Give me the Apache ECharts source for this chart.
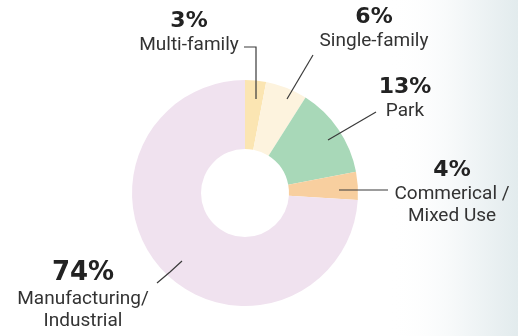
<!DOCTYPE html>
<html>
<head>
<meta charset="utf-8">
<script src="https://cdn.jsdelivr.net/npm/echarts@6/dist/echarts.min.js"></script>
<style>
  html, body { margin: 0; padding: 0; background: #fff; }
  #chart { width: 518px; height: 336px; }
</style>
</head>
<body>
<div id="chart"></div>
<script>
// land use shares, clockwise from 12 o'clock
const categories = ['Multi-family', 'Single-family', 'Park', 'Commerical /\nMixed Use', 'Manufacturing/\nIndustrial'];
const shares = [3, 6, 13, 4, 74];
const sliceColors = ['#fbe5b2', '#fdf3de', '#a8d8b8', '#f8cf9f', '#f0e2ef'];

// where each label block sits and how its leader line runs (px)
const labelPlace = [
  { x: 189, y: 8,   pct: 'p',   line: [[256, 99], [256, 47], [244, 47]] },
  { x: 374, y: 4,   pct: 'p',   line: [[287, 99], [300, 77], [313, 55]] },
  { x: 405, y: 74,  pct: 'p',   line: [[328, 140], [352, 126], [376, 112]] },
  { x: 452, y: 157, pct: 'p',   line: [[339, 190], [364, 190], [388, 190]] },
  { x: 83,  y: 258, pct: 'big', line: [[182, 261], [170, 272], [157, 283]] }
];

const chart = echarts.init(document.getElementById('chart'), null, { renderer: 'canvas' });

const pieBase = {
  type: 'pie',
  center: [245, 193],
  radius: [44, 113],
  startAngle: 90,
  clockwise: true,
  avoidLabelOverlap: false,
  emphasis: { disabled: true }
};

const option = {
  animation: false,
  backgroundColor: '#fff',
  graphic: [{
    type: 'rect',
    z: -10,
    shape: { x: 390, y: 0, width: 128, height: 336 },
    style: {
      fill: new echarts.graphic.LinearGradient(0, 0, 1, 0, [
        { offset: 0, color: 'rgba(255,255,255,0)' },
        { offset: 0.6, color: 'rgba(242,246,247,1)' },
        { offset: 1, color: 'rgba(226,235,237,1)' }
      ])
    },
    silent: true
  }],
  series: [
    // coloured ring
    Object.assign({}, pieBase, {
      z: 2,
      itemStyle: { borderWidth: 0 },
      label: { show: false },
      labelLine: { show: false },
      data: categories.map((name, i) => ({
        name: name,
        value: shares[i],
        itemStyle: { color: sliceColors[i] }
      }))
    }),
    // transparent copy on top, carries labels and leader lines
    Object.assign({}, pieBase, {
      z: 5,
      itemStyle: { color: 'rgba(0,0,0,0)', borderWidth: 0 },
      data: categories.map((name, i) => ({ name: name, value: shares[i] })),
      label: {
        show: true,
        position: 'outside',
        formatter: p => {
          const tag = labelPlace[p.dataIndex].pct;
          return '{' + tag + '|' + p.value + '%}\n{n|' + p.name.split('\n').join('}\n{n|') + '}';
        },
        rich: {
          p: { fontFamily: 'DejaVu Sans', fontWeight: 'bold', fontSize: 22, lineHeight: 26, color: '#222', align: 'center' },
          big: { fontFamily: 'DejaVu Sans', fontWeight: 'bold', fontSize: 26, lineHeight: 30, color: '#222', align: 'center' },
          n: { fontFamily: 'Roboto', fontSize: 19, lineHeight: 22, color: '#333', align: 'center' }
        }
      },
      labelLine: {
        show: true,
        lineStyle: { color: '#3a3a3a', width: 1.2 }
      },
      labelLayout: params => {
        const pl = labelPlace[params.dataIndex];
        return {
          x: pl.x,
          y: pl.y,
          align: 'center',
          verticalAlign: 'top',
          labelLinePoints: pl.line
        };
      }
    })
  ]
};

chart.setOption(option);
</script>
</body>
</html>
